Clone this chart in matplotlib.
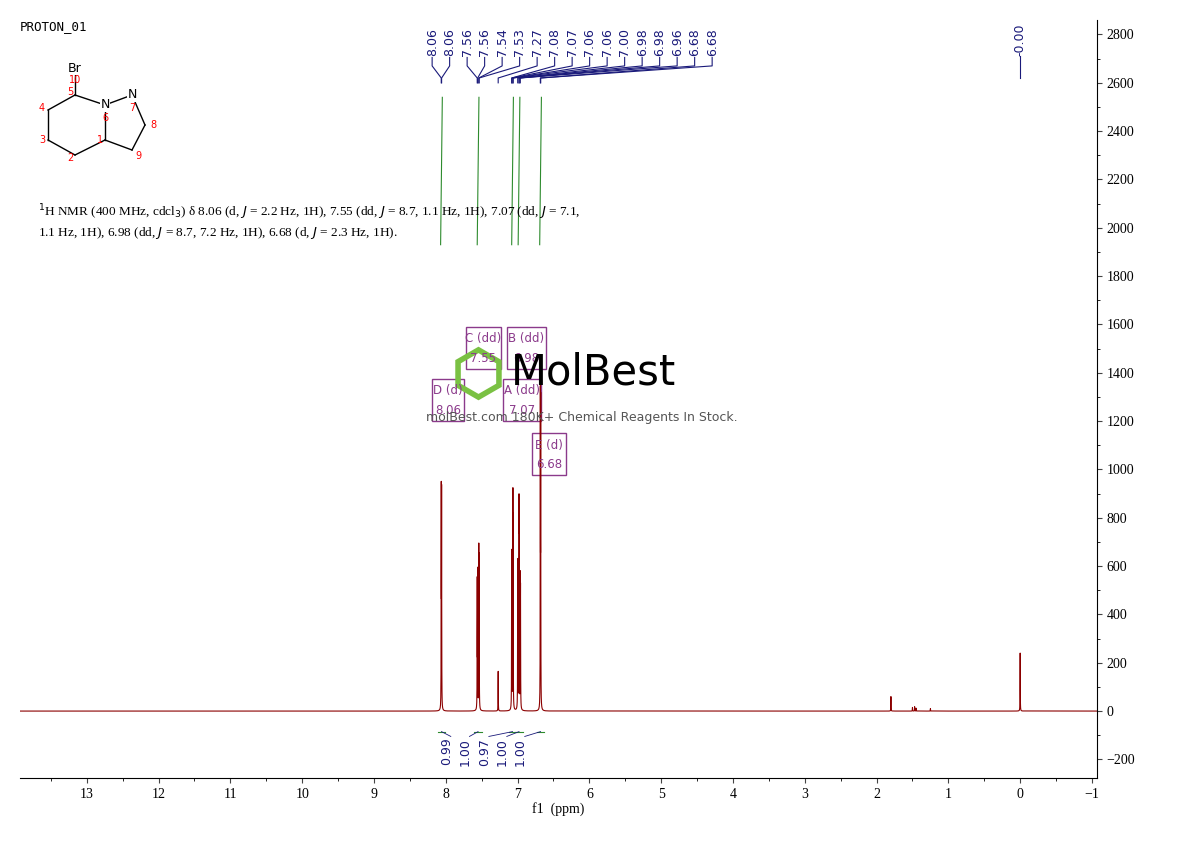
import numpy as np
import matplotlib
matplotlib.use("Agg")
import matplotlib.pyplot as plt
from matplotlib.patches import Rectangle

# peak list: shift (ppm), height
peak_ppm = [8.063, 8.058, 7.562, 7.556, 7.540, 7.535, 7.27, 7.082, 7.079, 7.065, 7.062,
            6.998, 6.995, 6.980, 6.977, 6.962, 6.959, 6.683, 6.678, 1.80, 1.50, 1.47, 1.45, 1.25, 0.00]
peak_h = [880, 870, 520, 560, 640, 600, 165, 560, 480, 780, 650,
          470, 520, 740, 700, 480, 420, 1250, 1220, 60, 15, 18, 12, 10, 240]
tick_labels = ["8.06", "8.06", "7.56", "7.56", "7.54", "7.53", "7.27", "7.08", "7.07", "7.06",
               "7.06", "7.00", "6.98", "6.98", "6.96", "6.68", "6.68"]
tick_ppm = [8.063, 8.058, 7.562, 7.556, 7.540, 7.535, 7.27, 7.082, 7.079, 7.065,
            7.062, 6.998, 6.980, 6.977, 6.962, 6.683, 6.678]
int_ppm = [8.06, 7.55, 7.07, 6.98, 6.68]
int_vals = ["0.99", "1.00", "0.97", "1.00", "1.00"]
mult_names = ["D (d)", "C (dd)", "A (dd)", "B (dd)", "E (d)"]
mult_ppm = ["8.06", "7.55", "7.07", "6.98", "6.68"]

fig = plt.figure(figsize=(11.9, 8.41), dpi=100)
ax = fig.add_axes([20/1190, 63/841, 1077/1190, 758/841])
x = np.linspace(-1.07, 13.93, 60000)
y = np.zeros_like(x)
w = 0.0015
for p, h in zip(peak_ppm, peak_h):
    y += h * w**2 / ((x - p)**2 + w**2)
ax.plot(x, y, color="#8B0000", lw=0.8)
ax.set_xlim(13.93, -1.07)
ax.set_ylim(-277, 2860)
ax.yaxis.tick_right()
ax.set_yticks(np.arange(-200, 2801, 200))
ax.set_yticklabels(["−200"] + [str(v) for v in range(0, 2801, 200)])
ax.set_yticks(np.arange(-200, 2801, 100), minor=True)
ax.set_xticks(np.arange(-1, 14))
ax.set_xticklabels(["−1"] + [str(v) for v in range(14)])
ax.set_xticks(np.arange(-1, 13.93, 0.5), minor=True)
for s in ["top", "left"]:
    ax.spines[s].set_visible(False)
ax.tick_params(labelsize=10, labelfontfamily="Liberation Serif", color="#444")
ax.set_xlabel("f1  (ppm)", fontsize=10, family="Liberation Serif", labelpad=1)

# peak label tree
lab_x = np.linspace(8.19, 4.29, len(tick_labels))
for lx, tp, t in zip(lab_x, tick_ppm, tick_labels):
    ax.text(lx, 2710, t, rotation=90, ha="center", va="bottom", fontsize=9,
            color="#1a1a7a", family="DejaVu Sans")
    ax.plot([lx, lx, tp, tp], [2705, 2670, 2620, 2600], color="#1a1a7a", lw=0.8)
ax.plot([0, 0], [2620, 2710], color="#1a1a7a", lw=0.8)
ax.text(0, 2710, "-0.00", rotation=90, ha="center", va="bottom", fontsize=9, color="#1a1a7a")

# top integral curves
for ip in int_ppm:
    t = np.linspace(0, 1, 50)
    ax.plot(ip + 0.012 - 0.024*t, 1930 + 610*t, color="#2e8b2e", lw=0.8)

# bottom integrals
lbl_x = [7.93, 7.67, 7.4, 7.15, 6.9]
for ip, v, lx in zip(int_ppm, int_vals, lbl_x):
    ax.plot([ip - 0.05, ip + 0.05], [-85, -85], color="#2e8b2e", lw=0.8)
    ax.plot([ip, lx], [-85, -105], color="#1a1a7a", lw=0.6)
    ax.text(lx + 0.06, -110, v, rotation=90, ha="center", va="top", fontsize=9, color="#1a1a7a")

# multiplet boxes
boxes = [(8.19, 1200, 7.75), (7.72, 1415, 7.23), (7.2, 1200, 6.68), (7.15, 1415, 6.6), (6.8, 975, 6.32)]
for (x0, y0, x1), nm, pp in zip(boxes, mult_names, mult_ppm):
    ax.add_patch(Rectangle((x1, y0), x0 - x1, 175, fill=False, ec="#8B3A8B", lw=1))
    ax.text((x0 + x1)/2, y0 + 125, nm, ha="center", va="center", fontsize=8.5, color="#8B3A8B")
    ax.text((x0 + x1)/2, y0 + 45, pp, ha="center", va="center", fontsize=8.5, color="#8B3A8B")

# watermark
ax.text(7.1, 1400, "MolBest", fontsize=30, color="black", va="center")
ax.plot([7.55], [1400], marker="h", markersize=34, mfc="none", mec="#7ac143", mew=4)
ax.text(6.1, 1200, "molBest.com 180K+ Chemical Reagents In Stock.", fontsize=9, color="#555", ha="center")

fig.text(20/1190, 1 - 27/841, "PROTON_01", fontsize=9, family="DejaVu Sans Mono", va="center")
fig.text(38/1190, 1 - 222/841,
         "$^1$H NMR (400 MHz, cdcl$_3$) δ 8.06 (d, $J$ = 2.2 Hz, 1H), 7.55 (dd, $J$ = 8.7, 1.1 Hz, 1H), 7.07 (dd, $J$ = 7.1,\n1.1 Hz, 1H), 6.98 (dd, $J$ = 8.7, 7.2 Hz, 1H), 6.68 (d, $J$ = 2.3 Hz, 1H).",
         fontsize=9.5, family="Liberation Serif", va="center", linespacing=1.3)

# structure sketch
fa = fig.add_axes([20/1190, 1 - 180/841, 160/1190, 130/841])
fa.axis("off"); fa.set_xlim(0, 160); fa.set_ylim(130, 0)
pts = {"5": (55, 45), "N6": (85, 55), "1": (85, 90), "2": (55, 105), "3": (28, 90), "4": (28, 60),
       "N7": (112, 45), "8": (125, 75), "9": (112, 100)}
bonds = [("5", "N6"), ("N6", "1"), ("1", "2"), ("2", "3"), ("3", "4"), ("4", "5"), ("N6", "N7"), ("N7", "8"), ("8", "9"), ("9", "1")]
for a, b in bonds:
    fa.plot([pts[a][0], pts[b][0]], [pts[a][1], pts[b][1]], color="k", lw=1)
fa.plot([55, 55], [45, 25], color="k", lw=1)
fa.text(55, 18, "Br", ha="center", va="center", fontsize=9, bbox=dict(fc="white", ec="none", pad=0))
fa.text(85, 55, "N", ha="center", va="center", fontsize=9, bbox=dict(fc="white", ec="none", pad=0))
fa.text(112, 45, "N", ha="center", va="center", fontsize=9, bbox=dict(fc="white", ec="none", pad=0))
for lab, (px, py) in [("10", (55, 30)), ("5", (50, 42)), ("6", (85, 68)), ("1", (80, 90)), ("2", (50, 108)),
                      ("3", (22, 90)), ("4", (22, 58)), ("7", (112, 58)), ("8", (133, 75)), ("9", (118, 106))]:
    fa.text(px, py, lab, color="red", fontsize=7, ha="center", va="center")

fig.savefig("out.png", dpi=100)
